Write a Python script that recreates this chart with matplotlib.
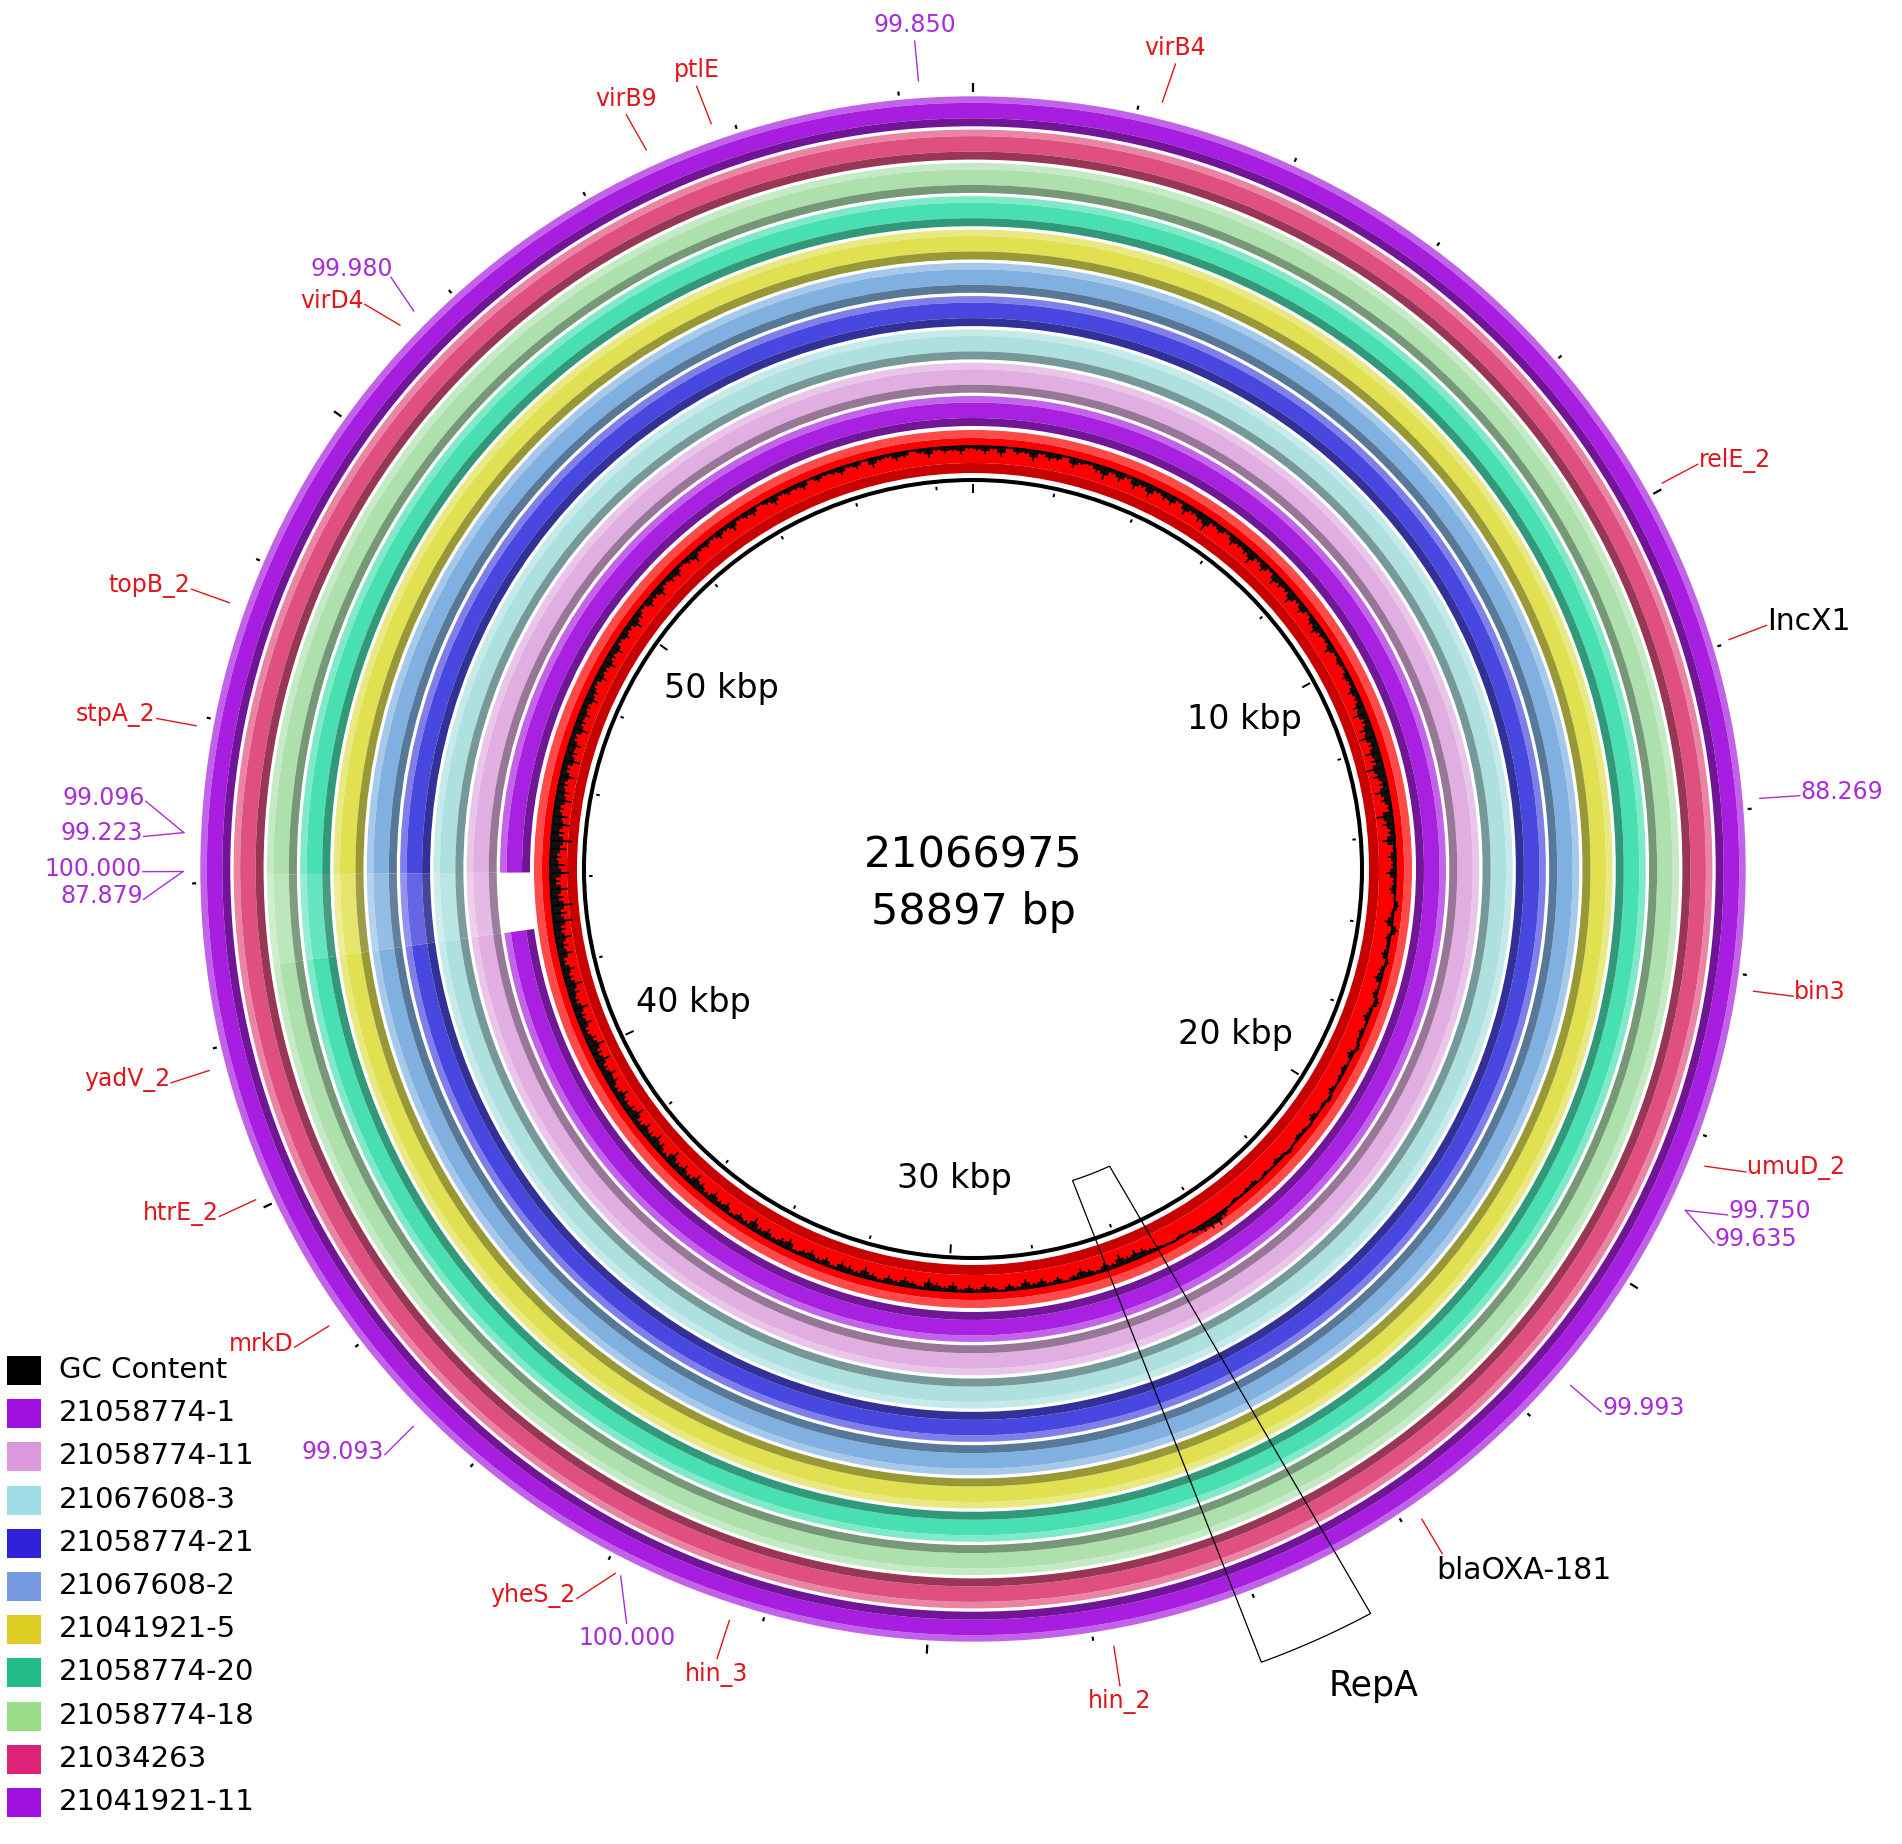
import numpy as np
import matplotlib.pyplot as plt
from matplotlib.patches import Wedge, Rectangle, Polygon, Circle

W, H = 1902, 1844
CX, CY = 973, 869          # centre of the map, pixels from top-left

GENOME_LEN = 58897
center_lines = ["21066975", "58897 bp"]

legend_labels = ["GC Content", "21058774-1", "21058774-11", "21067608-3", "21058774-21",
                 "21067608-2", "21041921-5", "21058774-20", "21058774-18", "21034263",
                 "21041921-11"]
legend_colors = ["#000000", "#a010e0", "#dd99dd", "#a0dde6", "#3020d8", "#7799e0",
                 "#ddcc22", "#22bb88", "#99dd88", "#dd2277", "#a010e0"]

# BLAST rings, inside -> outside (colour as it is rendered on the map)
ring_labels = legend_labels[1:]
ring_colors = ["#a820e0", "#e0aee0", "#aee0e0", "#4848e0", "#80b0e0",
               "#e0e050", "#48e0b0", "#aee0ae", "#e0507e", "#a81ee0"]

# no hit in the first ring, weaker identity in the following ones
gap_span = (42900, 44100)
no_hit_rings = ["21058774-1"]
weak_rings = ["21058774-11", "21067608-3", "21058774-21", "21067608-2",
              "21041921-5", "21058774-20", "21058774-18"]

# GC content deviation, 180 windows of ~327 bp, starting at 0 bp
gc_dev = [
    -3, -5, -2, -6, -1, -4, -3, -7, -2, -5, -4, -1, -6, -3, -2, -5, -8, -3,
    -6, -2, -7, -4, -8, -3, -5, -6, -2, -7, -4, -6, -9, -3, -5, -2, -6, -4,
    -5, -8, -3, -6, -2, -7, -5, -4, -8, -3, -6, -2, -5, -7, -4, -3, -6, -2,
    -4, -2, -5, -3, -6, -4, -7, -9, -5, -8, -10, -6, -9, -7, -11, -8, -5, -9,
    -6, -3, -10, -7, -4, -8, -2, -5, -3, -6, -2, -4, -1, 3, -2, -5, 4, -3,
    -2, -4, 2, -3, -5, -1, -3, 3, -2, -4, -1, -3, -2, 2, -4, -1, -3, -2,
    -1, -3, 2, -2, -1, -4, 1, -2, -3, -1, 2, -2, -3, -1, -2, 1, -3, -2,
    -1, -2, 1, 4, 7, 6, 5, 3, -1, -2, 1, -1, -2, -3, -5, -6, -4, -7,
    -3, -5, -2, -4, -6, -3, -1, -4, -2, -5, -3, -6, -2, -4, -1, -3, -5, -2,
    -4, -2, -6, -3, -5, -7, -2, -4, -6, -3, -5, -2, -4, -7, -3, -5, -6, -2,
    -5, -3, -6, -4, -2, -7, -5, -3, -6, -4, -8, -3, -5, -2, -6, -4, -7, -3,
    -6, -8, -4, -7, -5, -9, -3, -6, -8, -5, -7, -4, -9, -6, -5, -8, -4, -7,
    -8, -5, -9, -6, -10, -7, -4, -8, -6, -9, -5, -7, -10, -6, -8, -4, -9, -7,
    -10, -7, -12, -9, -13, -8, -11, -6, -12, -9, -7, -10, -13, -8, -11, -9, -6, -10,
    -8, -6, -9, -5, -10, -7, -8, -4, -9, -6, -7, -5, -8, -6, -3, -7, -5, -8,
    -5, -7, -3, -6, -4, -8, -5, -2, -6, -4, -7, -3, -5, -6, -2, -4, -7, -3,
    -4, -2, -5, -3, -6, -2, -4, -5, -1, -3, -6, -2, -4, -3, -5, -1, -4, -2,
    -3, -5, -2, -4, -1, -6, -3, -2, -5, -4, -1, -3, -6, -2, -4, -3, -5, -2,
]

kbp_marks = [10000, 20000, 30000, 40000, 50000]

# annotations: text, anchor (bp on the ring), end of leader (bp), kind
ann_text = ["virB4", "ptlE", "virB9", "virD4", "relE_2", "topB_2", "stpA_2", "bin3",
            "yadV_2", "umuD_2", "htrE_2", "mrkD", "yheS_2", "hin_3", "hin_2",
            "99.850", "99.980", "99.096", "99.223", "100.000", "87.879", "88.269",
            "99.750", "99.635", "99.993", "99.093", "100.000",
            "IncX1", "blaOXA-181"]
ann_anchor = [2269, 55731, 54900, 51290, 9940, 47396, 45882, 16180,
              41755, 18340, 40123, 38389, 33853, 32387, 27768,
              58249, 51525, 44605, 44605, 44143, 44143, 13885,
              18913, 18913, 21404, 36830, 33782,
              11963, 23785]
ann_end = [2310, 55715, 54858, 51187, 9950, 47396, 45882, 16167,
           41730, 18226, 40123, 38417, 34111, 32387, 27780,
           58238, 51612, 44939, 44540, 44143, 43830, 13895,
           18754, 19107, 21404, 36830, 33484,
           11932, 23816]
ann_kind = ["gene"] * 15 + ["ident"] * 12 + ["type"] * 2

repa_inner = (25410, 26550)
repa_outer = (24850, 26180)
repa_label_bp = 25176

RED = "#e0161b"
PURPLE = "#a72ed8"


def xy(bp, r):
    a = 2 * np.pi * np.asarray(bp, dtype=float) / GENOME_LEN
    return r * np.sin(a), r * np.cos(a)


def band(ax, r_out, r_in, start, end, color):
    t1 = 90 - 360 * end / GENOME_LEN
    t2 = 90 - 360 * start / GENOME_LEN
    ax.add_patch(Wedge((0, 0), r_out, t1, t2, width=r_out - r_in,
                       facecolor=color, edgecolor="none", lw=0))


def mix(c, other, f):
    c = np.array(plt.matplotlib.colors.to_rgb(c))
    return tuple(c + (np.array(other) - c) * f)


fig = plt.figure(figsize=(W / 100, H / 100), dpi=100)
ax = fig.add_axes([0, 0, 1, 1])
ax.set_xlim(-CX, W - CX)
ax.set_ylim(-(H - CY), CY)
ax.axis("off")

# BLAST rings
for i, (name, col) in enumerate(zip(ring_labels, ring_colors)):
    r_out = 473 + 33.3 * i
    r_in = r_out - 30
    segs = [(0, GENOME_LEN, col)]
    if name in no_hit_rings:
        segs = [(0, gap_span[0], col), (gap_span[1], GENOME_LEN, col)]
    elif name in weak_rings:
        pale = mix(col, (1, 1, 1), 0.16)
        segs = [(0, gap_span[0], col), (gap_span[0], gap_span[1], pale),
                (gap_span[1], GENOME_LEN, col)]
    for s, e, c in segs:
        band(ax, r_out, r_out - 6.5, s, e, mix(c, (1, 1, 1), 0.3))
        band(ax, r_out - 6.5, r_in + 8, s, e, c)
        band(ax, r_in + 8, r_in, s, e, mix(c, (0, 0, 0), 0.32))

# GC content ring
band(ax, 439, 431, 0, GENOME_LEN, "#ff4a4a")
band(ax, 431, 406, 0, GENOME_LEN, "#fb0000")
band(ax, 406, 396, 0, GENOME_LEN, "#c80000")

n = len(gc_dev)
step = GENOME_LEN / n
base_r = 423
vals = np.array(gc_dev, dtype=float)

# stepped histogram of the windows
pos = np.repeat(np.arange(n + 1) * step, 2)[1:-1]
hv = np.repeat(vals, 2) * 0.9
bx, by = xy(pos, base_r)
vx, vy = xy(pos, base_r + hv)
ax.add_patch(Polygon(np.column_stack([np.r_[bx, vx[::-1]], np.r_[by, vy[::-1]]]),
                     closed=True, facecolor="#111111", edgecolor="black", lw=0.5))
# baseline trace and a spike per window
cx, cy = xy(np.linspace(0, GENOME_LEN, 721), base_r)
ax.plot(cx, cy, color="black", lw=1.1)
mid = (np.arange(n) + 0.5) * step
for p, v in zip(mid, vals):
    x0, y0 = xy(p, base_r)
    x1, y1 = xy(p, base_r + 1.6 * v)
    ax.plot([x0, x1], [y0, y1], color="black", lw=1.3, solid_capstyle="butt")

# backbone circle and inner scale
ax.add_patch(Circle((0, 0), 389, fill=False, ec="black", lw=2.9))
for bp in range(0, GENOME_LEN, 2000):
    big = bp % 10000 == 0
    x0, y0 = xy(bp, 376 if big else 380.5)
    x1, y1 = xy(bp, 385 if big else 384)
    ax.plot([x0, x1], [y0, y1], color="black", lw=1.4, solid_capstyle="butt")
    x0, y0 = xy(bp, 777)
    x1, y1 = xy(bp, 786 if big else 781)
    ax.plot([x0, x1], [y0, y1], color="black", lw=1.6, solid_capstyle="butt")

for bp in kbp_marks:
    x, y = xy(bp, 310)
    ax.text(x, y, f"{bp // 1000} kbp", fontsize=24, ha="center", va="center")

ax.text(0, 14, center_lines[0], fontsize=31, ha="center", va="center")
ax.text(0, -43, center_lines[1], fontsize=31, ha="center", va="center")

# RepA box
ia = np.linspace(repa_inner[0], repa_inner[1], 40)
oa = np.linspace(repa_outer[1], repa_outer[0], 40)
ix, iy = xy(ia, 327)
ox, oy = xy(oa, 844)
ax.add_patch(Polygon(np.column_stack([np.r_[ix, ox], np.r_[iy, oy]]), closed=True,
                     fill=False, ec="black", lw=0.9))
x, y = xy(repa_label_bp, 910)
ax.text(x, y, "RepA", fontsize=25, ha="center", va="center")

# leader-line labels
for txt, a_bp, e_bp, kind in zip(ann_text, ann_anchor, ann_end, ann_kind):
    line_col = PURPLE if kind == "ident" else RED
    txt_col = {"gene": RED, "ident": PURPLE, "type": "black"}[kind]
    size = 21.5 if kind == "type" else 17
    x0, y0 = xy(a_bp, 790)
    x1, y1 = xy(e_bp, 830)
    ax.plot([x0, x1], [y0, y1], color=line_col, lw=1.0)
    deg = 360 * e_bp / GENOME_LEN
    if deg < 25 or deg > 330:
        ha, va, dx, dy = "center", "bottom", 0, 4
    elif 155 < deg < 206:
        ha, va, dx, dy = "center", "top", 0, -3
    elif deg <= 155:
        if deg > 140:
            ha, va, dx, dy = "left", "top", -6, -2
        else:
            ha, va, dx, dy = "left", "center", 1, 4
    else:
        if deg > 314:
            ha, va, dx, dy = "right", "bottom", 2, -4
        else:
            ha, va, dx, dy = "right", "center", -1, 3
    ax.text(x1 + dx, y1 + dy, txt, color=txt_col, fontsize=size, ha=ha, va=va)

# legend, bottom-left
for k, (lab, col) in enumerate(zip(legend_labels, legend_colors)):
    top = 1356 + 43.2 * k
    ax.add_patch(Rectangle((7 - CX, CY - top - 29), 34, 29, facecolor=col, edgecolor="none"))
    ax.text(59 - CX, CY - top - 14, lab, fontsize=21, ha="left", va="center")

fig.savefig("out.png", dpi=100, facecolor="white")
